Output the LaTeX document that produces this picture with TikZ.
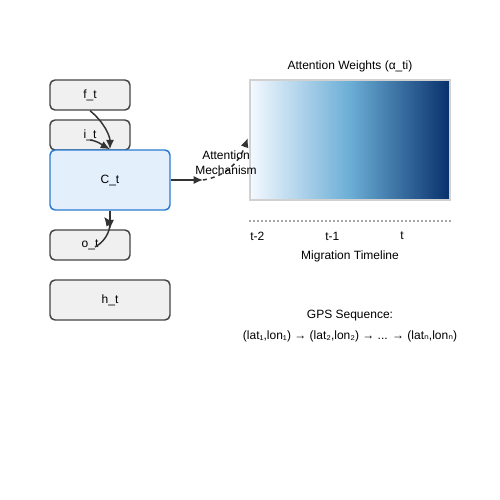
\documentclass[tikz,border=0pt]{standalone}
\usepackage{fontspec}
\setmainfont{Liberation Sans}
\newfontfamily\subfont{DejaVu Sans}
\usetikzlibrary{arrows.meta,calc}

\definecolor{gatefill}{HTML}{F0F0F0}
\definecolor{gateline}{HTML}{444444}
\definecolor{cellfill}{HTML}{E3F0FC}
\definecolor{cellline}{HTML}{2A7AD2}
\definecolor{wlow}{HTML}{F4F9FF}
\definecolor{wmid}{HTML}{6BAED6}
\definecolor{whigh}{HTML}{08306B}
\definecolor{flowcol}{HTML}{333333}

\begin{document}
\begin{tikzpicture}[x=0.75pt, y=-0.75pt, >={Latex[length=7pt,width=6pt]},
  font=\fontsize{9}{11.25}\selectfont,
  gate/.style={draw=gateline, fill=gatefill, line width=1.1pt, rounded corners=3.75pt,
    minimum width=60pt, minimum height=22.5pt},
  cell/.style={draw=cellline, fill=cellfill, line width=1.1pt, rounded corners=3.75pt,
    minimum width=90pt, minimum height=45pt},
  flow/.style={draw=flowcol, line width=1.1pt},
  weights/.style={draw=black!18, line width=1.3pt, left color=wlow, right color=whigh,
    middle color=wmid, minimum width=150pt, minimum height=90pt},
  label/.style={inner sep=0pt}]

\useasboundingbox (0,0) rectangle (500,500);

% LSTM gates
\node[gate] (ft) at (90,95) {f\_t};
\node[gate] (it) at (90,135) {i\_t};
\node[cell] (ct) at (110,180) {C\_t};
\node[gate] (ot) at (90,245) {o\_t};
\node[gate, minimum width=90pt, minimum height=30pt] (ht) at (110,300) {h\_t};

% Gate connections
\draw[flow, ->] (ft.south) .. controls (104,122) and (110,136) .. (ct.north);
\draw[flow, ->] ($(it.center)+(0,5)$) .. controls (98,141) and (104,146) .. (ct.north);
\draw[flow, ->] (ct.south) -- (ct.south |- ot.north);
\draw[flow, ->] ($(ot.center)+(5,2)$) .. controls (108,240) and (111,226) .. ([xshift=-4.5pt, yshift=-4.5pt]ct.south);

% Attention weights
\node[weights] (wts) at (350,140) {};
\node[label] (wtitle) at (350,66) {Attention Weights (α\_ti)};

% Attention mechanism
\coordinate (mech) at (203,180);
\draw[flow, ->] (ct.east) -- (mech);
\draw[flow, dashed, ->] (mech) .. controls (228,176) and (240,160) .. ([xshift=-1pt, yshift=1.5pt]wts.west);
\node[label, align=center] (mlabel) at (226,163) {Attention\\Mechanism};

% Timeline
\draw[black!35, line width=1pt, dash pattern=on 1.5pt off 1.5pt]
  ([yshift=-15pt]wts.south west) -- ([yshift=-15pt]wts.south east);
\node[label, anchor=west] (t2) at (250,236) {t-2};
\node[label, anchor=west] (t1) at (325,236) {t-1};
\node[label, anchor=west] (t0) at (400,236) {t};
\node[label] (tline) at (350,256) {Migration Timeline};

% GPS input
\node[label] (gps) at (350,316) {GPS Sequence:};
\node[label] (seq) at (350,336) {(lat₁,lon₁) → (lat₂,lon₂) → ... → (lat{\subfont ₙ},lon{\subfont ₙ})};

\end{tikzpicture}
\end{document}
